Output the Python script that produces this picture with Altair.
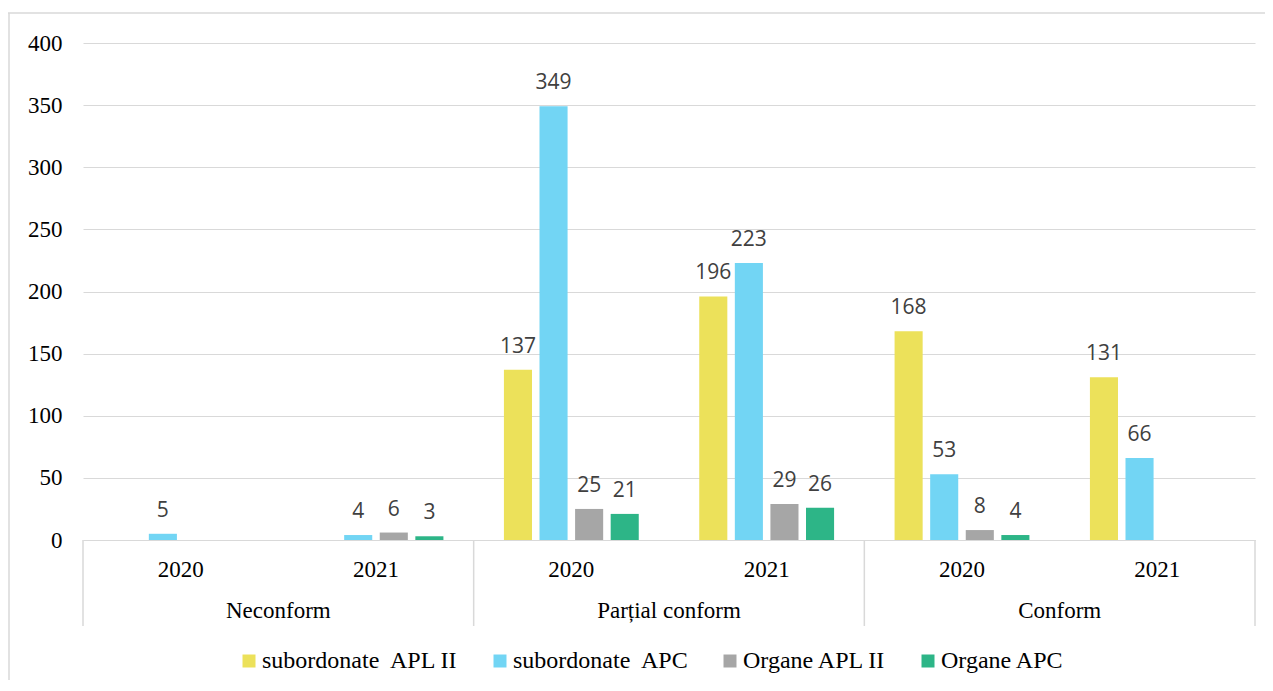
import altair as alt
import pandas as pd

categories = ["Neconform", "Parțial conform", "Conform"]
years = ["2020", "2021"]
series = ["subordonate\u00a0 APL II", "subordonate\u00a0 APC", "Organe APL II", "Organe APC"]
colors = ["#ECE15A", "#72D5F4", "#A6A6A6", "#2DB587"]

# values per series, in order: Neconform 2020, 2021, Parțial 2020, 2021, Conform 2020, 2021
sub_apl2 = [None, None, 137, 196, 168, 131]
sub_apc = [5, 4, 349, 223, 53, 66]
org_apl2 = [None, 6, 25, 29, 8, None]
org_apc = [None, 3, 21, 26, 4, None]
y_ticks = [0, 50, 100, 150, 200, 250, 300, 350, 400]

groups = [f"{c}|{y}" for c in categories for y in years]
vals = [sub_apl2, sub_apc, org_apl2, org_apc]

rows = []
for s, v in zip(series, vals):
    for g, val in zip(groups, v):
        if val is not None:
            rows.append({"group": g, "series": s, "value": val})
df = pd.DataFrame(rows)

cat_df = pd.DataFrame({"group": [f"{c}|2020" for c in categories], "cat": categories})
sep_df = pd.DataFrame({"group": [f"{c}|2020" for c in categories]})
sep_end_df = pd.DataFrame({"group": [groups[-1]]})

W, H = 1172, 497
SERIF = "Liberation Serif"
LINE = "#D9D9D9"

x_axis = alt.Axis(
    title=None,
    labelExpr="slice(datum.value, -4)",
    labelFont=SERIF,
    labelFontSize=23,
    labelColor="#000000",
    labelAngle=0,
    labelBaseline="alphabetic",
    labelPadding=36,
    ticks=False,
    tickSize=0,
    domainColor=LINE,
    domainWidth=1,
    grid=False,
)
x_scale = alt.Scale(domain=groups, paddingInner=0, paddingOuter=0)

y_axis = alt.Axis(
    title=None,
    values=y_ticks,
    labelFont=SERIF,
    labelFontSize=23,
    labelColor="#000000",
    labelPadding=21,
    ticks=False,
    domain=False,
    grid=True,
    gridColor=LINE,
    gridWidth=1.2,
)
y_scale = alt.Scale(domain=[0, 400], nice=False)

xoff = alt.XOffset(
    "series:N",
    sort=series,
    scale=alt.Scale(domain=series, paddingInner=0.211, paddingOuter=0.85),
)

bars = alt.Chart(df).mark_bar().encode(
    x=alt.X("group:N", sort=groups, scale=x_scale, axis=x_axis),
    xOffset=xoff,
    y=alt.Y("value:Q", scale=y_scale, axis=y_axis),
    color=alt.Color(
        "series:N",
        sort=series,
        scale=alt.Scale(domain=series, range=colors),
        legend=alt.Legend(
            title=None,
            orient="none",
            direction="horizontal",
            legendX=154,
            legendY=606,
            symbolType="square",
            symbolSize=169,
            symbolStrokeWidth=0,
            labelFont=SERIF,
            labelFontSize=24,
            labelColor="#000000",
            labelOffset=1,
            labelLimit=0,
            columnPadding=29,
            padding=0,
        ),
    ),
)

labels = alt.Chart(df).mark_text(
    font="Open Sans", fontSize=21, color="#404040", baseline="alphabetic", dy=-17
).encode(
    x=alt.X("group:N", sort=groups, scale=x_scale, axis=x_axis),
    xOffset=xoff,
    y=alt.Y("value:Q", scale=y_scale, axis=y_axis),
    text=alt.Text("value:Q"),
)

cat_text = alt.Chart(cat_df).mark_text(
    font=SERIF, fontSize=23, color="#000000", baseline="alphabetic", align="center"
).encode(
    x=alt.X("group:N", sort=groups, bandPosition=1, scale=x_scale, axis=x_axis),
    y=alt.value(H + 78),
    text="cat:N",
)

seps = alt.Chart(sep_df).mark_rule(color=LINE, strokeWidth=1.5).encode(
    x=alt.X("group:N", sort=groups, bandPosition=0, scale=x_scale, axis=x_axis),
    y=alt.value(H),
    y2=alt.value(H + 86),
)

sep_end = alt.Chart(sep_end_df).mark_rule(color=LINE, strokeWidth=1.5).encode(
    x=alt.X("group:N", sort=groups, bandPosition=1, scale=x_scale, axis=x_axis),
    y=alt.value(H),
    y2=alt.value(H + 86),
)

border_top = alt.Chart(sep_end_df).mark_rule(color=LINE, strokeWidth=1.5).encode(
    x=alt.value(-75), x2=alt.value(W + 20), y=alt.value(-30)
)
border_left = alt.Chart(sep_end_df).mark_rule(color=LINE, strokeWidth=1.5).encode(
    x=alt.value(-74), y=alt.value(-30), y2=alt.value(H + 200)
)

chart = (
    alt.layer(bars, labels, cat_text, seps, sep_end, border_top, border_left)
    .properties(
        width=W,
        height=H,
        autosize=alt.AutoSizeParams(type="none"),
        padding={"left": 75, "top": 35, "right": 10, "bottom": 140},
        background="#FFFFFF",
    )
    .configure_view(stroke=None)
    .configure_axis(labelFont=SERIF, labelFontSize=23, labelColor="#000000")
    .configure_axisY(labelFont=SERIF, labelFontSize=23, labelColor="#000000")
)

chart.save("out.html", embed_options={"renderer": "svg", "actions": False})
